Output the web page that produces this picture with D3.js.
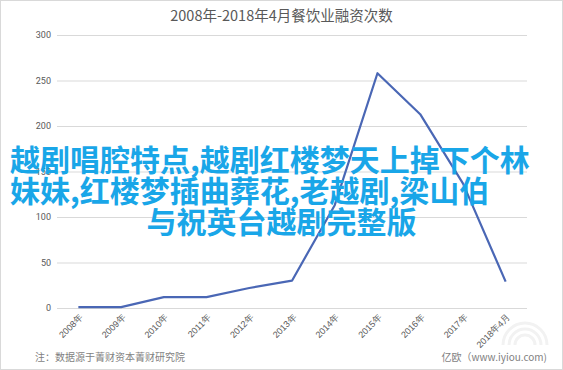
<!DOCTYPE html>
<html>
<head>
<meta charset="utf-8">
<script src="https://cdn.jsdelivr.net/npm/d3@7"></script>
<style>
  body { margin: 0; background: #fff; }
  svg { display: block; font-family: "Noto Sans CJK SC", "Microsoft YaHei", sans-serif; }
</style>
</head>
<body>
<svg width="563" height="370"></svg>
<script>
// chart data
var years = ['2008年', '2009年', '2010年', '2011年', '2012年', '2013年',
             '2014年', '2015年', '2016年', '2017年', '2018年4月'];
var counts = [1, 1, 12, 12, 22, 30, 113, 258, 213, 137, 29];
var yTicks = [0, 50, 100, 150, 200, 250, 300];
var overlayLines = ['越剧唱腔特点,越剧红楼梦天上掉下个林',
                    '妹妹,红楼梦插曲葬花,老越剧,梁山伯',
                    '与祝英台越剧完整版'];

var svg = d3.select('svg');
var W = 563, H = 370;
var plotL = 57, plotR = 527, plotT = 35, plotB = 308;

// outer frame
svg.append('rect')
   .attr('x', 0.5).attr('y', 0.5)
   .attr('width', W - 1).attr('height', H - 1)
   .attr('fill', '#fff')
   .attr('stroke', '#d9d9d9');

var x = d3.scaleBand().domain(years).range([plotL, plotR]);
var y = d3.scaleLinear().domain([0, 300]).range([plotB, plotT]);

// title
svg.append('text')
   .attr('x', W / 2).attr('y', 21)
   .attr('text-anchor', 'middle')
   .attr('font-size', 14.5)
   .attr('fill', '#595959')
   .text('2008年-2018年4月餐饮业融资次数');

// gridlines + y labels
var yAxis = d3.axisLeft(y).tickValues(yTicks).tickSize(-(plotR - plotL)).tickPadding(6);
var gy = svg.append('g').attr('transform', 'translate(' + plotL + ',0)').call(yAxis);
gy.select('.domain').remove();
gy.selectAll('.tick line').attr('stroke', '#d9d9d9');
gy.selectAll('.tick text').attr('fill', '#595959').attr('font-size', 9)
  .attr('font-family', 'Roboto, sans-serif');

// x labels
var xAxis = d3.axisBottom(x).tickSize(0).tickPadding(0);
var gx = svg.append('g').attr('transform', 'translate(0,' + plotB + ')').call(xAxis);
gx.select('.domain').remove();
gx.selectAll('.tick text')
  .attr('fill', '#595959')
  .attr('font-size', 9)
  .attr('text-anchor', 'end')
  .attr('dy', 0)
  .attr('transform', 'translate(5,10) rotate(-45)');

// data line
var line = d3.line()
   .x(function(d, i) { return x(years[i]) + x.bandwidth() / 2; })
   .y(function(d) { return y(d); });

svg.append('path')
   .datum(counts)
   .attr('d', line)
   .attr('fill', 'none')
   .attr('stroke', '#4a67b5')
   .attr('stroke-width', 2.2)
   .attr('stroke-linejoin', 'round');

// faint watermark arcs
var wm = svg.append('g').attr('fill', 'none').attr('stroke', '#f2f2f2').attr('stroke-width', 3);
[10, 16, 22].forEach(function(r) {
   wm.append('path')
     .attr('d', 'M' + (525 - r) + ',345 A' + r + ',' + r + ' 0 0 1 ' + (525 + r) + ',345');
});

// footnotes
svg.append('text')
   .attr('x', 35).attr('y', 361)
   .attr('font-size', 10)
   .attr('fill', '#7f7f7f')
   .text('注：数据源于菁财资本菁财研究院');

svg.append('text')
   .attr('x', 547).attr('y', 361)
   .attr('text-anchor', 'end')
   .attr('font-size', 10)
   .attr('fill', '#7f7f7f')
   .text('亿欧（www.iyiou.com)');

// overlay caption: first two lines flush left, last one centred
svg.selectAll('text.overlay')
   .data(overlayLines)
   .enter()
   .append('text')
   .attr('class', 'overlay')
   .attr('x', function(d, i) { return i < 2 ? 10 : W / 2; })
   .attr('y', function(d, i) { return 171 + i * 31; })
   .attr('text-anchor', function(d, i) { return i < 2 ? 'start' : 'middle'; })
   .attr('font-size', 30)
   .attr('font-weight', 'bold')
   .attr('fill', '#19a6e8')
   .text(function(d) { return d; });
</script>
</body>
</html>
